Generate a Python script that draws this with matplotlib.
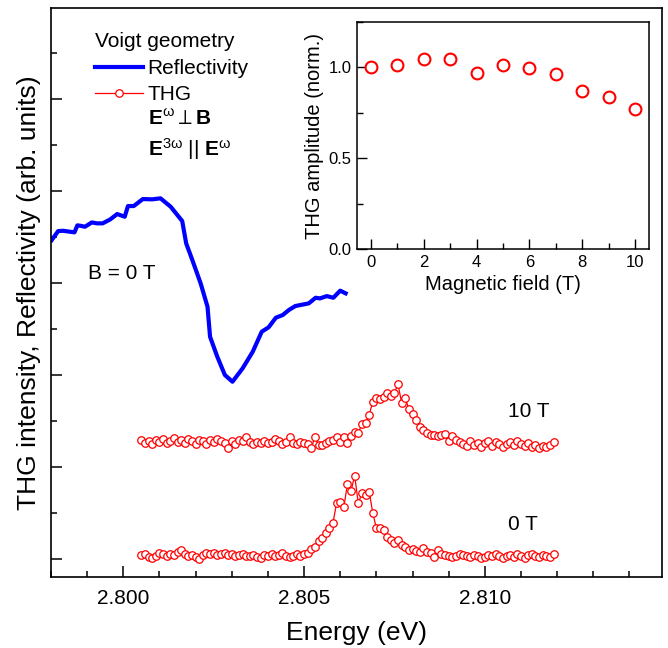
import numpy as np
import matplotlib
matplotlib.use('Agg')
import matplotlib.pyplot as plt
from matplotlib.ticker import MultipleLocator

plt.rcParams['font.family'] = ['Liberation Sans', 'DejaVu Sans']
plt.rcParams['mathtext.fontset'] = 'custom'
plt.rcParams['mathtext.rm'] = 'Liberation Sans'
plt.rcParams['mathtext.bf'] = 'Liberation Sans:bold'
plt.rcParams['mathtext.it'] = 'Liberation Sans:italic'

# reflectivity at B = 0 T (arb. units)
refl_energy = [2.79802, 2.79820, 2.79834, 2.79865, 2.79873, 2.79881, 2.79894, 2.79913,
               2.79927, 2.79943, 2.79964, 2.79983, 2.80004, 2.80013, 2.80029, 2.80054,
               2.80080, 2.80103, 2.80131, 2.80163, 2.80174, 2.80191, 2.80214, 2.80233,
               2.80240, 2.80260, 2.80281, 2.80302, 2.80330, 2.80358, 2.80383, 2.80402,
               2.80422, 2.80441, 2.80458, 2.80476, 2.80513, 2.80532, 2.80544, 2.80563,
               2.80581, 2.80600, 2.80615]
refl = [3.467, 3.565, 3.568, 3.551, 3.627, 3.623, 3.612, 3.659,
        3.649, 3.649, 3.692, 3.750, 3.721, 3.837, 3.837, 3.913,
        3.910, 3.921, 3.830, 3.674, 3.431, 3.250, 2.996, 2.742,
        2.416, 2.199, 2.000, 1.927, 2.072, 2.253, 2.471, 2.519,
        2.623, 2.652, 2.707, 2.750, 2.779, 2.840, 2.833, 2.858,
        2.840, 2.917, 2.888]

# THG spectra, scan grid 2.8005 ... 2.8119 eV in 0.1 meV steps
thg_energy = np.round(2.8005 + 1e-4 * np.arange(115), 4)
thg_0T = [0.043, 0.054, 0.022, 0.011, 0.033, 0.065, 0.054, 0.033, 0.054, 0.043,
          0.076, 0.098, 0.054, 0.033, 0.043, 0.022, 0.000, 0.043, 0.065, 0.054,
          0.065, 0.043, 0.054, 0.065, 0.043, 0.054, 0.033, 0.043, 0.054, 0.033,
          0.033, 0.043, 0.022, 0.011, 0.043, 0.033, 0.054, 0.033, 0.043, 0.065,
          0.033, 0.022, 0.033, 0.054,
          0.033, 0.054, 0.065, 0.103, 0.125, 0.196, 0.228, 0.283, 0.332,
          0.395, 0.605, 0.623, 0.562, 0.815, 0.742, 0.905, 0.605, 0.714, 0.696,
          0.732, 0.503, 0.334, 0.334, 0.315, 0.236, 0.207, 0.177, 0.207, 0.152,
          0.127, 0.098, 0.105, 0.090, 0.079, 0.116, 0.079, 0.068, 0.025, 0.098,
          0.054, 0.043, 0.033, 0.022, 0.033, 0.054, 0.043, 0.033, 0.022, 0.043,
          0.033, 0.011, 0.022, 0.043, 0.033, 0.054, 0.033, 0.011, 0.033, 0.043,
          0.022, 0.054, 0.033, 0.011, 0.043, 0.054, 0.033, 0.022, 0.043, 0.033,
          0.022, 0.054]
thg_10T = [1.293, 1.261, 1.283, 1.250, 1.293, 1.272, 1.304, 1.261, 1.283, 1.315,
           1.272, 1.293, 1.261, 1.304, 1.283, 1.250, 1.293, 1.283, 1.250, 1.293,
           1.272, 1.304, 1.283, 1.261, 1.207, 1.283, 1.250, 1.293, 1.283, 1.326,
           1.272, 1.250, 1.272, 1.261, 1.283, 1.261, 1.272, 1.304, 1.283, 1.250,
           1.272, 1.326, 1.261,
           1.250, 1.275, 1.264, 1.250, 1.207, 1.326, 1.239, 1.239, 1.261, 1.283,
           1.293, 1.321, 1.275, 1.326, 1.261, 1.337, 1.380, 1.370, 1.467, 1.473,
           1.565, 1.707, 1.755, 1.739, 1.766, 1.804, 1.772, 1.808, 1.899, 1.692,
           1.755, 1.625, 1.576, 1.511, 1.435, 1.402, 1.370, 1.353, 1.348, 1.332,
           1.348, 1.364, 1.283, 1.337, 1.293, 1.272, 1.250,
           1.228, 1.283, 1.239, 1.261, 1.217, 1.261, 1.283, 1.228, 1.272, 1.250,
           1.217, 1.250, 1.272, 1.239, 1.283, 1.250, 1.228, 1.261, 1.217, 1.239,
           1.207, 1.228, 1.217, 1.239, 1.272]

# inset: THG amplitude vs magnetic field
field = [0, 1, 2, 3, 4, 5, 6, 7, 8, 9, 10]
amplitude = [1.00, 1.013, 1.044, 1.046, 0.969, 1.015, 0.995, 0.963, 0.870, 0.835, 0.770]

fig = plt.figure(figsize=(6.68, 6.48), dpi=100)
ax = fig.add_axes([0.0763, 0.1096, 0.9147, 0.878])

ax.plot(refl_energy, refl, color='#0000ff', lw=3.0, label='Reflectivity')
thg_style = dict(color='red', lw=0.9, marker='o', ms=5.4, mfc='white', mec='red', mew=0.9)
ax.plot(thg_energy, thg_10T, **thg_style)
ax.plot(thg_energy, thg_0T, label='THG', **thg_style)

ax.set_xlim(2.798, 2.8149)
ax.set_ylim(-0.196, 5.99)
ax.xaxis.set_major_locator(MultipleLocator(0.005))
ax.xaxis.set_minor_locator(MultipleLocator(0.001))
ax.yaxis.set_major_locator(MultipleLocator(1))
ax.yaxis.set_minor_locator(MultipleLocator(0.5))
ax.xaxis.set_major_formatter(matplotlib.ticker.FormatStrFormatter('%.3f'))
ax.tick_params(which='both', direction='in', labelsize=15, pad=9, width=1.1)
ax.tick_params(which='major', length=8)
ax.tick_params(which='minor', length=4.5)
ax.tick_params(axis='y', labelleft=False)
for s in ax.spines.values():
    s.set_linewidth(1.2)
ax.set_xlabel('Energy (eV)', fontsize=19, labelpad=9)
ax.set_ylabel('THG intensity, Reflectivity (arb. units)', fontsize=19, labelpad=-2)

leg = ax.legend(loc='upper left', bbox_to_anchor=(0.072, 0.958), frameon=False,
                title='Voigt geometry', alignment='left', fontsize=15, title_fontsize=15,
                handlelength=2.3, handletextpad=0.2, labelspacing=0.32, borderpad=0,
                borderaxespad=0, numpoints=1)
leg._legend_box.sep = 6

ax.text(0.1588, 0.805, r'$\mathbf{E}^{\mathrm{ω}}\perp\mathbf{B}$', transform=ax.transAxes,
        fontsize=15, ha='left', va='center')
ax.text(0.1588, 0.752, r'$\mathbf{E}^{3\mathrm{ω}}\ ||\ \mathbf{E}^{\mathrm{ω}}$', transform=ax.transAxes,
        fontsize=15, ha='left', va='center')
ax.text(0.0606, 0.533, 'B = 0 T', transform=ax.transAxes, fontsize=15, ha='left', va='center')
ax.text(0.748, 0.290, '10 T', transform=ax.transAxes, fontsize=15, ha='left', va='center')
ax.text(0.748, 0.093, '0 T', transform=ax.transAxes, fontsize=15, ha='left', va='center')

# inset
ins = fig.add_axes([0.5344, 0.6157, 0.4371, 0.3503])
ins.plot(field, amplitude, ls='none', marker='o', ms=8.5, mfc='white', mec='red', mew=1.5)
ins.set_xlim(-0.52, 10.52)
ins.set_ylim(0, 1.25)
ins.xaxis.set_major_locator(MultipleLocator(2))
ins.xaxis.set_minor_locator(MultipleLocator(1))
ins.yaxis.set_major_locator(MultipleLocator(0.5))
ins.yaxis.set_minor_locator(MultipleLocator(0.25))
ins.tick_params(which='both', direction='in', labelsize=12, pad=4, width=1.0)
ins.tick_params(which='major', length=7)
ins.tick_params(which='minor', length=4)
for s in ins.spines.values():
    s.set_linewidth(1.1)
ins.set_xlabel('Magnetic field (T)', fontsize=14.5, labelpad=4)
ins.set_ylabel('THG amplitude (norm.)', fontsize=14.5, labelpad=3)

fig.savefig('out.png', dpi=100)
